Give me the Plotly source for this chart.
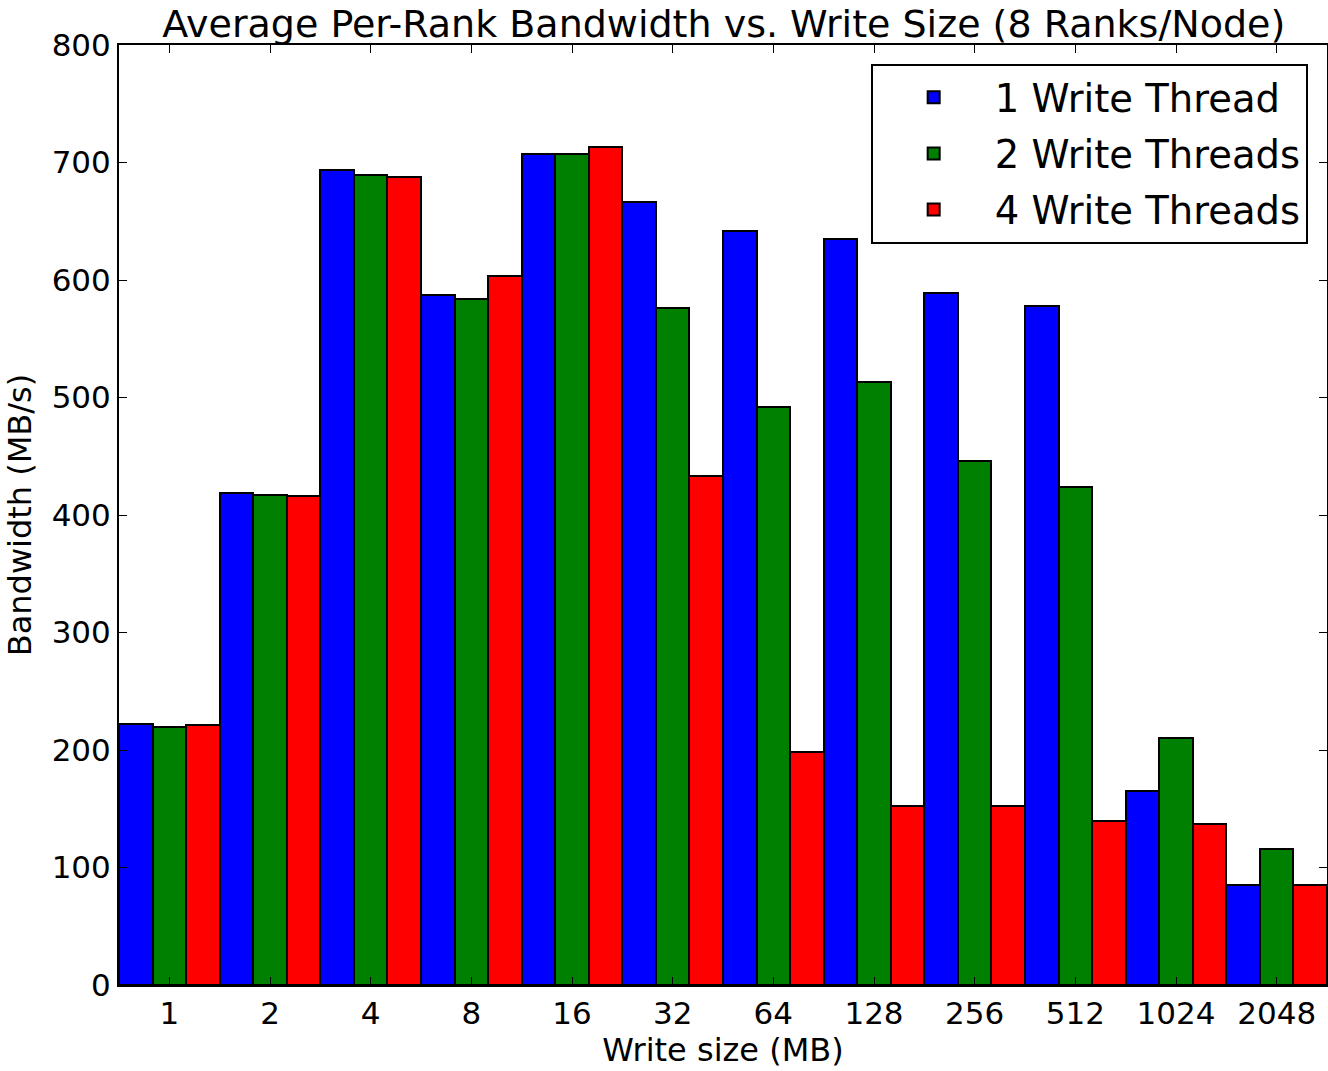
import plotly.graph_objects as go

categories = ["1", "2", "4", "8", "16", "32", "64", "128", "256", "512", "1024", "2048"]
one_thread = [222, 419, 694, 587, 707, 666, 642, 635, 589, 578, 165, 85]
two_threads = [220, 417, 689, 584, 707, 576, 492, 513, 446, 424, 210, 116]
four_threads = [221, 416, 688, 603, 713, 433, 198, 152, 152, 140, 137, 85]
series_names = ["1 Write Thread", "2 Write Threads", "4 Write Threads"]
series_colors = ["#0000ff", "#008000", "#ff0000"]
y_ticks = [0, 100, 200, 300, 400, 500, 600, 700, 800]

fig = go.Figure()
for name, vals, col in zip(series_names, [one_thread, two_threads, four_threads], series_colors):
    fig.add_trace(go.Bar(
        x=categories, y=vals, name=name, legendgroup=name,
        marker=dict(color=col, line=dict(color="black", width=2)),
    ))

font = "DejaVu Sans, sans-serif"
fig.update_layout(
    width=1328, height=1071,
    margin=dict(l=119, r=1, t=45, b=86, autoexpand=False),
    barmode="group", bargap=0, bargroupgap=0,
    plot_bgcolor="white", paper_bgcolor="white",
    font=dict(family=font, size=31, color="black"),
    title=dict(text="Average Per-Rank Bandwidth vs. Write Size (8 Ranks/Node)",
               x=0.545, xanchor="center", y=0.978, yanchor="middle",
               font=dict(size=38, family=font)),
    legend=dict(x=0.984, xanchor="right", y=0.98, yanchor="top",
                bordercolor="black", borderwidth=2, bgcolor="white",
                font=dict(size=38.5, family=font), itemwidth=112,
                traceorder="grouped", tracegroupgap=3),
    xaxis=dict(type="category", range=[-0.5, 11.5], automargin=False,
               showline=True, linecolor="black", linewidth=2, mirror="ticks",
               ticks="inside", ticklen=8, tickcolor="black",
               title=dict(text="Write size (MB)", standoff=4, font=dict(size=32)),
               tickfont=dict(size=31)),
    yaxis=dict(range=[0, 800], tickvals=y_ticks, automargin=False,
               showline=True, linecolor="black", linewidth=2, mirror="ticks",
               ticks="inside", ticklen=8, tickcolor="black", showgrid=False,
               zeroline=False,
               title=dict(text="Bandwidth (MB/s)", standoff=10, font=dict(size=32)),
               tickfont=dict(size=31)),
)

fig.write_html("out.html", config={"displayModeBar": False},
               post_script="document.body.style.margin='0px';")
